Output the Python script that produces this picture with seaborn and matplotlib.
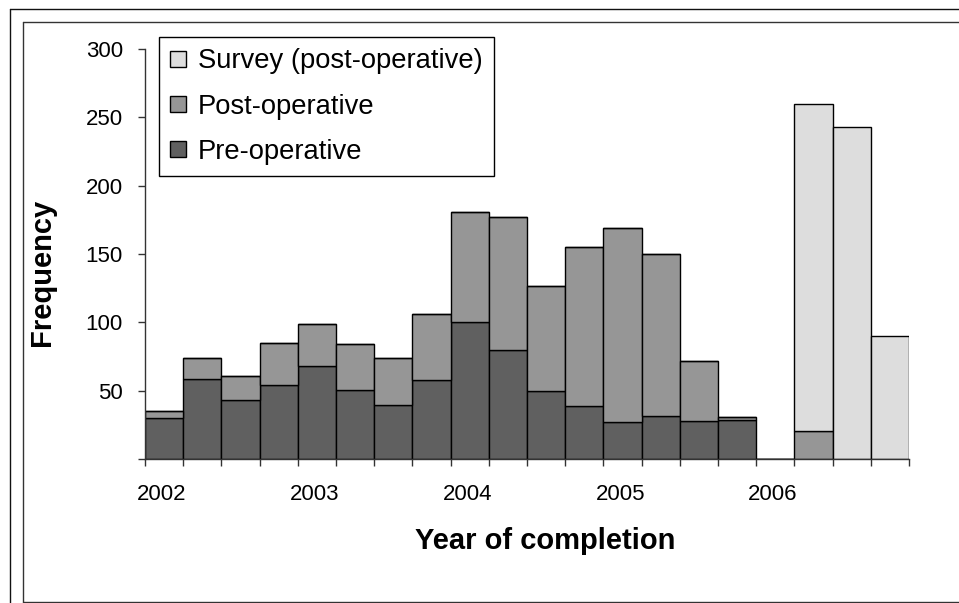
import numpy as np
import pandas as pd
import matplotlib
matplotlib.use("Agg")
import matplotlib.pyplot as plt
from matplotlib.patches import Patch
from matplotlib.lines import Line2D
import seaborn as sns

# Quarterly counts
quarters = [f"{y} Q{q}" for y in range(2002, 2007) for q in range(1, 5)]
pre_op = [30, 59, 43, 54, 68, 51, 40, 58, 100, 80, 50, 39, 27, 32, 28, 29, 0, 0, 0, 0]
post_op = [5, 15, 18, 31, 31, 33, 34, 48, 81, 97, 77, 116, 142, 118, 44, 2, 0, 21, 0, 0]
survey = [0, 0, 0, 0, 0, 0, 0, 0, 0, 0, 0, 0, 0, 0, 0, 0, 0, 239, 243, 90]

groups = ["Survey (post-operative)", "Post-operative", "Pre-operative"]
colors = ["#dddddd", "#969696", "#606060"]
year_labels = ["2002", "2003", "2004", "2005", "2006"]
y_ticks = [0, 50, 100, 150, 200, 250, 300]

W, H = 959, 603

start = np.array([int(q[:4]) + (int(q[-1]) - 1) / 4 for q in quarters])
edges = np.append(start, start[-1] + 0.25)

df = pd.DataFrame({
    "quarter": np.tile(start + 0.125, 3),
    "count": pre_op + post_op + survey,
    "group": np.repeat(["Pre-operative", "Post-operative", "Survey (post-operative)"], len(quarters)),
})

sns.set_theme(style="ticks")
plt.rcParams["font.family"] = ["Liberation Sans", "DejaVu Sans"]
plt.rcParams["text.color"] = "black"
plt.rcParams["axes.labelcolor"] = "black"

fig = plt.figure(figsize=(W / 100, H / 100), dpi=100)
ax = fig.add_axes([145 / W, 1 - 459.3 / H, 764 / W, 410.5 / H])

sns.histplot(data=df, x="quarter", weights="count", hue="group", hue_order=groups,
             palette=dict(zip(groups, colors)), bins=edges.tolist(), multiple="stack",
             alpha=1, edgecolor="black", linewidth=1, legend=False, ax=ax)

ax.set_xlim(edges[0], edges[-1])
ax.set_ylim(0, 300)
ax.spines[["top", "right"]].set_visible(False)
for s in ["left", "bottom"]:
    ax.spines[s].set_color("#333333")
    ax.spines[s].set_linewidth(1)

# year labels sit near the middle of each year's first quarter
ax.set_xticks([int(y) + 0.11 for y in year_labels])
ax.set_xticklabels(year_labels)
ax.set_xticks(edges, minor=True)
ax.tick_params(axis="x", which="major", length=0, pad=18, labelsize=16, labelcolor="black")
ax.tick_params(axis="x", which="minor", length=5, width=1, color="#333333", direction="out")
ax.set_yticks(y_ticks)
ax.set_yticklabels(["" if v == 0 else str(v) for v in y_ticks])
ax.tick_params(axis="y", length=5, width=1, color="#333333", pad=11, labelsize=16,
               labelcolor="black", direction="out")

ax.set_xlabel("Year of completion", fontsize=21, fontweight="bold", color="black")
ax.xaxis.set_label_coords(0.5236, -0.165)
ax.set_ylabel("Frequency", fontsize=21, fontweight="bold", color="black")
ax.yaxis.set_label_coords(-0.116, 0.455)

handles = [Patch(facecolor=c, edgecolor="black", linewidth=1) for c in colors]
leg = ax.legend(handles, groups, loc="upper left", bbox_to_anchor=(159 / W, 1 - 37 / H),
                bbox_transform=fig.transFigure, borderaxespad=0, fontsize=19.7,
                handlelength=0.55, handleheight=0.55, handletextpad=0.44, borderpad=0.42,
                labelspacing=0.7, fancybox=False, framealpha=1, edgecolor="black")
leg.get_frame().set_linewidth(1)
for t in leg.get_texts():
    t.set_color("black")


# chart-area frames
def frame_line(x0, y0, x1, y1, color):
    fig.add_artist(Line2D([x0 / W, x1 / W], [1 - y0 / H, 1 - y1 / H],
                          transform=fig.transFigure, color=color, linewidth=1))


frame_line(10, 9, W, 9, "#111111")
frame_line(10, 9, 10, H, "#111111")
frame_line(23, 22, W, 22, "#333333")
frame_line(23, 22, 23, 601.5, "#333333")
frame_line(23, 601.5, W, 601.5, "#333333")

fig.savefig("out.png", dpi=100)
